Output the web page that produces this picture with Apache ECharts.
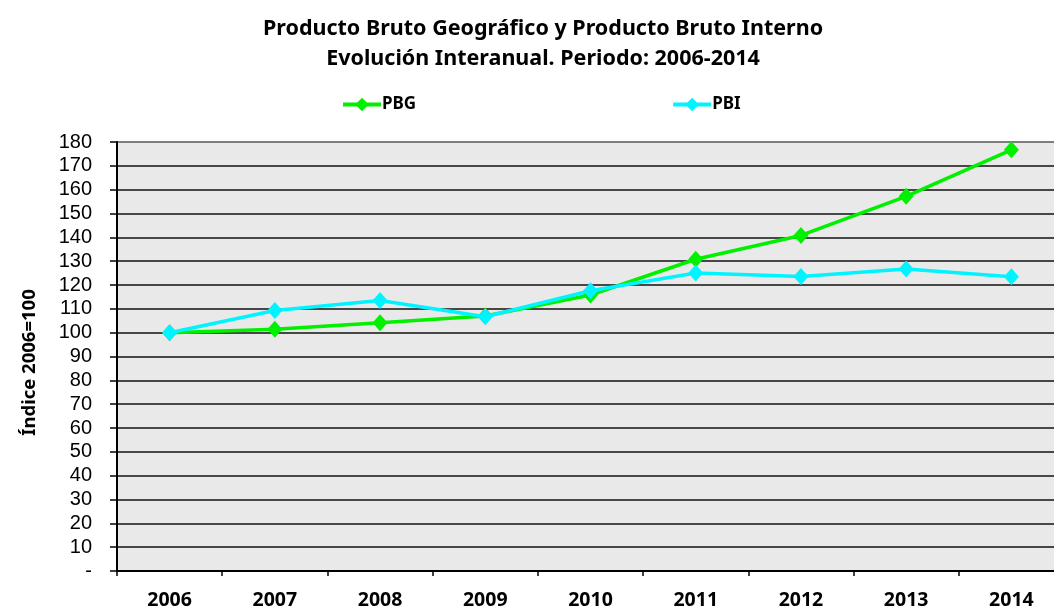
<!DOCTYPE html>
<html>
<head>
<meta charset="utf-8">
<script src="https://cdn.jsdelivr.net/npm/echarts@6/dist/echarts.min.js"></script>
<style>
  html, body { margin: 0; padding: 0; background: #fff; overflow: hidden; }
  #chart { width: 1066px; height: 610px; }
</style>
</head>
<body>
<div id="chart"></div>
<script>
// --- Data ---
const years = ['2006', '2007', '2008', '2009', '2010', '2011', '2012', '2013', '2014'];
const pbg = [100, 101.4, 104.2, 107, 115.8, 130.8, 140.8, 157.2, 176.7];
const pbi = [100, 109.3, 113.5, 106.7, 117.6, 125, 123.6, 126.7, 123.5];

const titleFont = "'Noto Sans', sans-serif";

// split line colours: black except the top one (180) which is grey
const splitColors = [];
for (let i = 0; i <= 18; i++) splitColors.push(i === 18 ? '#767676' : '#111');

// the plot area runs past the right edge of the 1054px picture, like the original
const chart = echarts.init(document.getElementById('chart'));

const option = {
    animation: false,
    title: {
        text: 'Producto Bruto Geográfico y Producto Bruto Interno\nEvolución Interanual. Periodo: 2006-2014',
        left: 538,
        textAlign: 'center',
        top: 9,
        textStyle: {
            fontFamily: titleFont,
            fontWeight: 'bold',
            fontSize: 21.5,
            lineHeight: 30,
            color: '#000'
        }
    },
    legend: {
        left: 336,
        top: 91,
        itemWidth: 38,
        itemHeight: 17,
        itemGap: 255,
        lineStyle: { width: 4 },
        textStyle: { fontFamily: titleFont, fontWeight: 'bold', fontSize: 17, color: '#000', padding: [0, 0, 0, -4] },
        data: ['PBG', 'PBI']
    },
    grid: {
        left: 117,
        top: 142,
        bottom: 36,
        right: 2,
        show: true,
        backgroundColor: '#e9e9e9',
        borderColor: '#767676',
        borderWidth: 1.5
    },
    xAxis: {
        type: 'category',
        data: years,
        boundaryGap: true,
        axisLine: { lineStyle: { color: '#000', width: 2 } },
        axisTick: { show: true, length: 5, lineStyle: { color: '#000', width: 1.5 } },
        axisLabel: {
            margin: 19,
            fontFamily: titleFont,
            fontWeight: 'bold',
            fontSize: 19.5,
            color: '#000'
        },
        splitLine: { show: false }
    },
    yAxis: {
        type: 'value',
        min: 0,
        max: 180,
        interval: 10,
        name: 'Índice 2006=100',
        nameLocation: 'middle',
        nameGap: 78,
        nameRotate: 90,
        nameTextStyle: { fontFamily: titleFont, fontWeight: 'bold', fontSize: 18.5, color: '#000', padding: [0, 0, 0, -12] },
        axisLine: { show: true, lineStyle: { color: '#000', width: 2 } },
        axisTick: { show: true, length: 7, lineStyle: { color: '#000', width: 1.5 } },
        axisLabel: {
            margin: 25,
            fontFamily: "'Liberation Sans', Arial, sans-serif",
            fontSize: 20,
            color: '#000',
            formatter: v => v === 0 ? '-' : String(v)
        },
        splitLine: { show: true, lineStyle: { color: splitColors, width: 1.5 } }
    },
    series: [
        {
            name: 'PBG',
            type: 'line',
            data: pbg,
            symbol: 'diamond',
            symbolSize: [15, 17],
            lineStyle: { color: '#00f000', width: 3.5 },
            itemStyle: { color: '#00f000' },
            z: 2
        },
        {
            name: 'PBI',
            type: 'line',
            data: pbi,
            symbol: 'diamond',
            symbolSize: [15, 17],
            lineStyle: { color: '#00f4ff', width: 3.5 },
            itemStyle: { color: '#00f4ff' },
            z: 3
        }
    ]
};

chart.setOption(option);
</script>
</body>
</html>
